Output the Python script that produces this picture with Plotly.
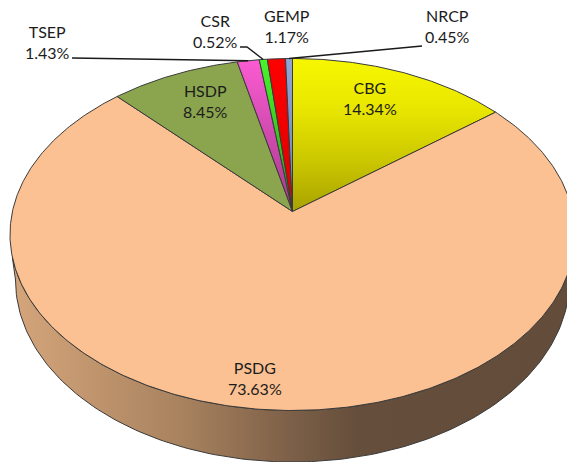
"""Perspective 3D pie, drawn as filled scatter polygons on pixel-scaled axes."""

import numpy as np
import plotly.graph_objects as go

WIDTH = 567
HEIGHT = 462

# data
names = ["CBG", "PSDG", "HSDP", "TSEP", "CSR", "GEMP", "NRCP"]
shares = [14.34, 73.63, 8.45, 1.43, 0.52, 1.17, 0.45]

# gradient stops of each slice from rim to apex, a single stop means flat
slice_colors = [
    ["#f7f700", "#e8e600", "#cbc700", "#a9a200"],
    ["#fcc192"],
    ["#8ba54f"],
    ["#fb5bd2", "#a43a8a"],
    ["#48f52c", "#2a9a18"],
    ["#ff0000", "#d80000"],
    ["#8fa6d6", "#6c82b0"],
]

# where the text of each label sits, and which slices get a leader line
label_pos = {
    "CBG": (370, 97.5),
    "PSDG": (255, 378),
    "HSDP": (205, 100.5),
    "TSEP": (47, 41.5),
    "CSR": (215, 30.5),
    "GEMP": (287, 25.5),
    "NRCP": (447, 25.5),
}
leader_start = {
    "TSEP": [(72, 58)],
    "CSR": [(240, 47), (247, 47)],
    "NRCP": [(422, 46)],
}

# geometry of the top face and of the lower rim
CX = 292.5
TOP_CY = 234.5
TOP_RX = 282.5
TOP_RY = 176
APEX_Y = 211.5
BOTTOM_CY = 280
BOTTOM_RX = 277
BOTTOM_RY = 182
OUTLINE = "#3a3a3a"


def rim_point(theta):
    """Map clockwise angle from 12 o'clock to the top rim, with foreshortening."""
    k = (TOP_CY - APEX_Y) / TOP_RY
    a = TOP_RX * np.sqrt(1 - k * k)
    u, v = np.sin(theta), np.cos(theta)
    d = 1 + k * v
    return CX + a * u / d, TOP_CY - (TOP_RY * v + k * TOP_RY) / d


fig = go.Figure()

# side wall first, the top face covers its upper edge
t_top = np.linspace(np.radians(97.5), np.radians(262.5), 160)
t_low = np.linspace(np.radians(270), np.radians(90), 160)
wall_x = np.r_[CX + TOP_RX * np.sin(t_top), CX + BOTTOM_RX * np.sin(t_low)]
wall_y = np.r_[TOP_CY - TOP_RY * np.cos(t_top), BOTTOM_CY - BOTTOM_RY * np.cos(t_low)]
fig.add_trace(go.Scatter(
    x=np.r_[wall_x, wall_x[0]],
    y=np.r_[wall_y, wall_y[0]],
    mode="lines",
    line=dict(color=OUTLINE, width=1),
    fill="toself",
    fillgradient=dict(
        type="horizontal",
        start=13,
        stop=567,
        colorscale=[
            [0.0, "#d5a57b"],
            [0.3, "#a9835f"],
            [0.5, "#7d6048"],
            [0.62, "#654e3b"],
            [1.0, "#634c39"],
        ],
    ),
    hoverinfo="skip",
))

# top face slices, clockwise from 12 o'clock
edges = np.r_[0, np.cumsum(shares)] / np.sum(shares) * 2 * np.pi
for i, name in enumerate(names):
    arc = np.linspace(edges[i], edges[i + 1], max(3, int(shares[i] * 6)))
    rx, ry = rim_point(arc)
    xs = np.r_[CX, rx, CX]
    ys = np.r_[APEX_Y, ry, APEX_Y]
    stops = slice_colors[i]
    fill_style = dict(fillcolor=stops[0])
    if len(stops) > 1:
        fill_style = dict(fillgradient=dict(
            type="vertical",
            start=float(ry.min()),
            stop=APEX_Y,
            colorscale=[[j / (len(stops) - 1), c] for j, c in enumerate(stops)],
        ))
    fig.add_trace(go.Scatter(
        x=xs,
        y=ys,
        mode="lines",
        line=dict(color=OUTLINE, width=1),
        fill="toself",
        name=name,
        hoverinfo="name",
        **fill_style,
    ))

# leader lines end on the rim at the middle of their slice
for name, start in leader_start.items():
    i = names.index(name)
    ex, ey = rim_point((edges[i] + edges[i + 1]) / 2)
    fig.add_trace(go.Scatter(
        x=[p[0] for p in start] + [float(ex)],
        y=[p[1] for p in start] + [float(ey)],
        mode="lines",
        line=dict(color="#1a1a1a", width=1.4),
        hoverinfo="skip",
    ))

for name, share in zip(names, shares):
    lx, ly = label_pos[name]
    fig.add_annotation(
        x=lx,
        y=ly,
        text=f"{name}<br>{share:.2f}%",
        showarrow=False,
        font=dict(family="Lato", size=16, color="#1c1c1c"),
    )

fig.update_layout(
    width=WIDTH,
    height=HEIGHT,
    showlegend=False,
    paper_bgcolor="white",
    plot_bgcolor="white",
    margin=dict(l=0, r=0, t=0, b=0),
    xaxis=dict(range=[0, WIDTH], visible=False, fixedrange=True),
    yaxis=dict(range=[HEIGHT, 0], visible=False, fixedrange=True),
)

# the page's default body margin would push the figure off the window
fig.write_html(
    "out.html",
    config=dict(displayModeBar=False),
    post_script="document.body.style.margin='0';document.body.style.overflow='hidden';",
)
